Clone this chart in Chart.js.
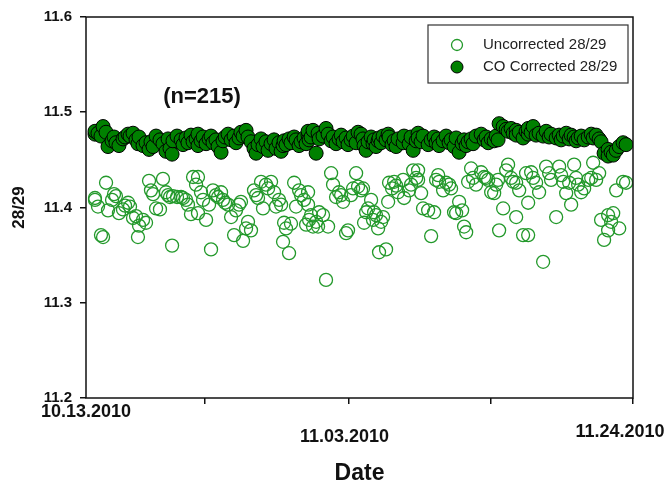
<!DOCTYPE html>
<html>
<head>
<meta charset="utf-8">
<script src="https://cdn.jsdelivr.net/npm/chart.js@4.4.0/dist/chart.umd.min.js"></script>
<style>
  html, body { margin: 0; padding: 0; background: #fff; }
</style>
</head>
<body>
<canvas id="ratioPlot" width="669" height="486"></canvas>
<script>
// sampling time in days after 10.13.2010, one entry per measurement
var days = [
  0.69, 0.69, 0.92, 1.15, 1.31, 1.54, 1.69, 2.00, 2.15, 2.30,
  2.53, 2.84, 3.00, 3.23, 3.38, 3.61, 3.84, 3.99, 4.07, 4.38,
  4.61, 4.84, 4.99, 5.15, 5.38, 5.68, 5.91, 6.14, 6.30, 6.45,
  6.61, 6.68, 6.99, 7.30, 7.45, 7.68, 7.83, 8.06, 8.22, 8.45,
  8.60, 8.60, 8.83, 8.99, 9.22, 9.45, 9.60, 9.75, 9.98, 10.14,
  10.37, 10.52, 10.68, 10.91, 11.14, 11.37, 11.52, 11.75, 11.90, 12.06,
  12.29, 12.44, 12.67, 12.90, 13.06, 13.21, 13.44, 13.59, 13.82, 13.98,
  14.21, 14.44, 14.59, 14.82, 14.98, 15.13, 15.21, 15.36, 15.59, 15.74,
  15.98, 16.13, 16.36, 16.51, 16.74, 16.90, 17.05, 17.05, 17.13, 17.28,
  17.43, 17.67, 17.82, 17.90, 18.20, 18.43, 18.59, 18.82, 18.97, 19.20,
  19.43, 19.59, 19.74, 19.97, 20.12, 20.35, 20.51, 20.74, 20.89, 21.12,
  21.27, 21.35, 21.51, 21.66, 21.89, 22.04, 22.12, 22.27, 22.43, 22.50,
  22.66, 22.81, 23.04, 23.20, 23.27, 23.50, 23.66, 23.81, 23.96, 24.35,
  24.42, 24.81, 24.96, 25.12, 25.35, 25.50, 25.50, 25.73, 25.88, 26.27,
  26.50, 26.73, 26.88, 27.04, 27.11, 27.42, 27.65, 27.88, 28.03, 28.26,
  28.42, 28.65, 28.88, 29.03, 29.19, 29.34, 29.57, 29.72, 29.95, 30.34,
  30.57, 30.72, 30.88, 31.11, 31.34, 31.49, 31.64, 31.72, 32.03, 32.26,
  32.41, 32.64, 32.80, 33.03, 33.03, 33.26, 33.56, 33.79, 33.95, 33.95,
  34.18, 34.33, 34.56, 34.79, 35.10, 35.33, 35.56, 35.71, 36.10, 36.33,
  36.48, 36.64, 36.87, 37.10, 37.25, 37.48, 37.63, 37.79, 38.02, 38.25,
  38.56, 38.79, 38.94, 39.17, 39.40, 39.55, 39.78, 40.09, 40.09, 40.32,
  40.48, 40.71, 40.94, 41.24, 41.47
];

var uncorrected = [
  11.410, 11.408, 11.401, 11.371, 11.369, 11.426, 11.397, 11.408, 11.414, 11.412,
  11.394, 11.398, 11.402, 11.405, 11.401, 11.389, 11.391, 11.369, 11.381, 11.387,
  11.384, 11.428, 11.418, 11.414, 11.399, 11.398, 11.430, 11.416, 11.413, 11.411,
  11.360, 11.412, 11.411, 11.411, 11.410, 11.408, 11.403, 11.393, 11.432, 11.424,
  11.432, 11.394, 11.416, 11.408, 11.387, 11.403, 11.356, 11.418, 11.413, 11.411,
  11.416, 11.408, 11.405, 11.403, 11.390, 11.371, 11.397, 11.403, 11.406, 11.365,
  11.378, 11.385, 11.376, 11.418, 11.413, 11.410, 11.427, 11.399, 11.424, 11.420,
  11.427, 11.416, 11.401, 11.408, 11.403, 11.364, 11.384, 11.378, 11.352, 11.383,
  11.426, 11.401, 11.418, 11.413, 11.408, 11.382, 11.416, 11.403, 11.387, 11.392,
  11.380, 11.385, 11.380, 11.395, 11.392, 11.324, 11.380, 11.436, 11.424, 11.411,
  11.416, 11.413, 11.406, 11.373, 11.376, 11.413, 11.420, 11.436, 11.422, 11.418,
  11.420, 11.384, 11.395, 11.399, 11.408, 11.387, 11.395, 11.392, 11.378, 11.353,
  11.385, 11.390, 11.356, 11.406, 11.426, 11.420, 11.427, 11.423, 11.416, 11.429,
  11.410, 11.418, 11.424, 11.439, 11.431, 11.439, 11.429, 11.415, 11.399, 11.397,
  11.370, 11.395, 11.429, 11.434, 11.427, 11.418, 11.426, 11.424, 11.420, 11.395,
  11.394, 11.406, 11.397, 11.380, 11.374, 11.427, 11.441, 11.431, 11.424, 11.437,
  11.432, 11.431, 11.429, 11.416, 11.415, 11.424, 11.429, 11.376, 11.399, 11.439,
  11.445, 11.431, 11.427, 11.426, 11.390, 11.418, 11.371, 11.436, 11.405, 11.371,
  11.437, 11.431, 11.426, 11.416, 11.343, 11.443, 11.436, 11.429, 11.390, 11.443,
  11.434, 11.427, 11.415, 11.426, 11.403, 11.445, 11.431, 11.424, 11.416, 11.420,
  11.429, 11.431, 11.447, 11.429, 11.436, 11.387, 11.366, 11.392, 11.376, 11.385,
  11.394, 11.418, 11.378, 11.427, 11.426
];

var coCorrected = [
  11.477, 11.480, 11.478, 11.475, 11.485, 11.479, 11.464, 11.470, 11.474, 11.468,
  11.465, 11.472, 11.474, 11.477, 11.475, 11.478, 11.471, 11.467, 11.474, 11.465,
  11.468, 11.461, 11.469, 11.464, 11.475, 11.471, 11.467, 11.459, 11.472, 11.462,
  11.456, 11.470, 11.475, 11.471, 11.466, 11.473, 11.468, 11.476, 11.469, 11.472,
  11.465, 11.477, 11.470, 11.474, 11.467, 11.472, 11.475, 11.468, 11.471, 11.464,
  11.458, 11.470, 11.474, 11.477, 11.471, 11.475, 11.468, 11.473, 11.479, 11.475,
  11.481, 11.474, 11.469, 11.462, 11.457, 11.466, 11.472, 11.464, 11.469, 11.460,
  11.467, 11.471, 11.462, 11.468, 11.459, 11.465, 11.470, 11.466, 11.472, 11.468,
  11.474, 11.471, 11.465, 11.469, 11.473, 11.467, 11.476, 11.480, 11.471, 11.474,
  11.481, 11.457, 11.478, 11.472, 11.475, 11.483, 11.477, 11.470, 11.474, 11.467,
  11.472, 11.476, 11.469, 11.473, 11.466, 11.471, 11.475, 11.468, 11.479, 11.477,
  11.472, 11.465, 11.460, 11.469, 11.474, 11.467, 11.471, 11.464, 11.470, 11.473,
  11.468, 11.475, 11.471, 11.477, 11.474, 11.466, 11.470, 11.464, 11.472, 11.468,
  11.475, 11.467, 11.474, 11.460, 11.470, 11.478, 11.473, 11.469, 11.475, 11.466,
  11.471, 11.474, 11.468, 11.472, 11.465, 11.470, 11.475, 11.468, 11.471, 11.464,
  11.473, 11.458, 11.467, 11.471, 11.465, 11.469, 11.472, 11.467, 11.475, 11.477,
  11.471, 11.474, 11.468, 11.472, 11.470, 11.475, 11.471, 11.488, 11.485, 11.482,
  11.480, 11.483, 11.478, 11.481, 11.476, 11.479, 11.473, 11.480, 11.477, 11.483,
  11.479, 11.485, 11.476, 11.478, 11.475, 11.480, 11.474, 11.477, 11.473, 11.476,
  11.471, 11.475, 11.478, 11.472, 11.476, 11.474, 11.470, 11.473, 11.475, 11.471,
  11.474, 11.477, 11.473, 11.476, 11.472, 11.469, 11.457, 11.461, 11.454, 11.458,
  11.455, 11.460, 11.464, 11.468, 11.466
];

var seriesNames = ['Uncorrected 28/29', 'CO Corrected 28/29'];
var dateLabels = ['10.13.2010', '11.03.2010', '11.24.2010'];
var dateLabelDays = [0, 21, 42];
var xTickDays = [9.14, 20.2, 31.1, 42];
var yMin = 11.2, yMax = 11.6, yStep = 0.1;
var sampleCount = 'n=' + days.length;

var FONT = '"Liberation Sans", Arial, Helvetica, sans-serif';
var openGreen = '#23992b';
var fillGreen = '#008000';

function toPoints(vals) {
  return days.map(function (d, i) { return { x: d, y: vals[i] }; });
}

// box frame, date captions, sample count and legend box
var decorations = {
  id: 'decorations',
  afterDraw: function (chart) {
    var ctx = chart.ctx;
    var a = chart.chartArea;
    var x = chart.scales.x;
    ctx.save();

    ctx.strokeStyle = '#111';
    ctx.lineWidth = 1.5;
    ctx.strokeRect(a.left, a.top, a.right - a.left, a.bottom - a.top);

    ctx.fillStyle = '#111';
    ctx.textAlign = 'center';
    ctx.textBaseline = 'middle';
    ctx.font = 'bold 18px ' + FONT;
    var shift = [0, -15, -13];
    var rowY = [a.bottom + 14, a.bottom + 39, a.bottom + 34];
    dateLabels.forEach(function (t, i) {
      ctx.fillText(t, x.getPixelForValue(dateLabelDays[i]) + shift[i], rowY[i]);
    });

    ctx.font = 'bold 22px ' + FONT;
    ctx.fillText('(' + sampleCount + ')', a.left + 116, a.top + 80);

    // legend
    var bx = 428, by = 25, bw = 200, bh = 58;
    ctx.fillStyle = '#fff';
    ctx.fillRect(bx, by, bw, bh);
    ctx.strokeStyle = '#333';
    ctx.lineWidth = 1.2;
    ctx.strokeRect(bx, by, bw, bh);

    ctx.lineWidth = 1.3;
    ctx.strokeStyle = openGreen;
    ctx.beginPath();
    ctx.arc(bx + 29, by + 20, 5.5, 0, Math.PI * 2);
    ctx.stroke();

    ctx.fillStyle = fillGreen;
    ctx.strokeStyle = '#000';
    ctx.lineWidth = 1;
    ctx.beginPath();
    ctx.arc(bx + 29, by + 42, 6, 0, Math.PI * 2);
    ctx.fill();
    ctx.stroke();

    ctx.fillStyle = '#222';
    ctx.textAlign = 'left';
    ctx.font = '15px ' + FONT;
    ctx.fillText(seriesNames[0], bx + 55, by + 20);
    ctx.fillText(seriesNames[1], bx + 55, by + 42);
    ctx.restore();
  }
};

var chart = new Chart(document.getElementById('ratioPlot').getContext('2d'), {
  type: 'scatter',
  data: {
    datasets: [
      {
        label: seriesNames[0],
        data: toPoints(uncorrected),
        pointRadius: 6.5,
        pointBorderWidth: 1.3,
        borderColor: openGreen,
        backgroundColor: 'rgba(255,255,255,0)'
      },
      {
        label: seriesNames[1],
        data: toPoints(coCorrected),
        pointRadius: 7,
        pointBorderWidth: 1,
        borderColor: '#000',
        backgroundColor: fillGreen
      }
    ]
  },
  options: {
    responsive: false,
    animation: false,
    events: [],
    layout: { padding: { top: 17, right: 36, left: 0, bottom: 0 } },
    plugins: {
      legend: { display: false },
      tooltip: { enabled: false }
    },
    scales: {
      x: {
        type: 'linear',
        min: 0,
        max: 42,
        afterBuildTicks: function (s) {
          s.ticks = xTickDays.map(function (v) { return { value: v }; });
        },
        ticks: { display: false },
        grid: { drawOnChartArea: false, tickLength: 6, color: '#111', lineWidth: 1.5 },
        border: { display: false },
        title: {
          display: true,
          text: 'Date',
          color: '#111',
          font: { family: FONT, size: 23, weight: 'bold', lineHeight: 1 },
          padding: { top: 0, bottom: 1 }
        },
        afterFit: function (s) { s.height = 88; }
      },
      y: {
        min: yMin,
        max: yMax,
        ticks: {
          stepSize: yStep,
          padding: 8,
          color: '#111',
          font: { family: FONT, size: 15, weight: 'bold' },
          callback: function (v) { return v.toFixed(1); }
        },
        grid: { drawOnChartArea: false, tickLength: 6, color: '#111', lineWidth: 1.5 },
        border: { display: false },
        title: {
          display: true,
          text: '28/29',
          color: '#111',
          font: { family: FONT, size: 17, weight: 'bold', lineHeight: 1 },
          padding: { top: 11, bottom: 0 }
        },
        afterFit: function (s) { s.width = 86; }
      }
    }
  },
  plugins: [decorations]
});
</script>
</body>
</html>
